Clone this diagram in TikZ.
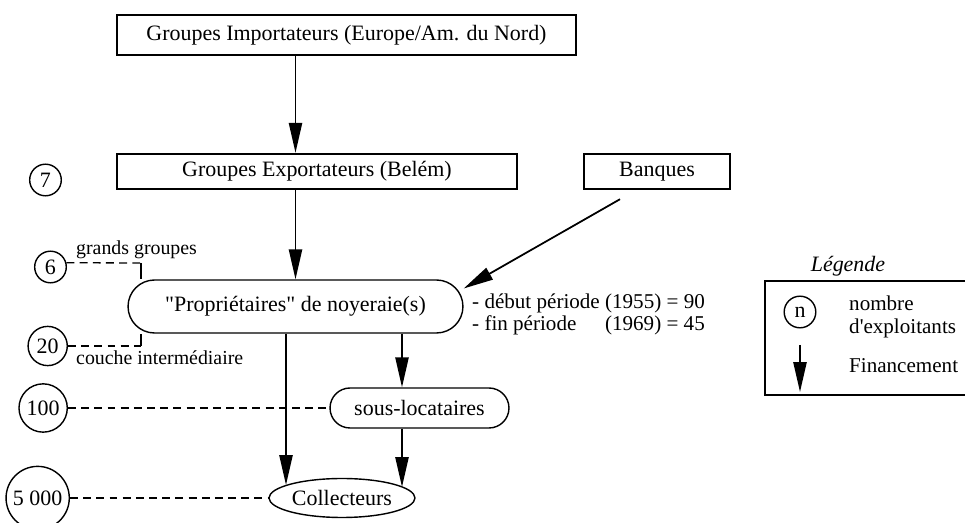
\documentclass[tikz,border=0pt]{standalone}
\usepackage{fontspec}
\setmainfont{Liberation Serif}
\usetikzlibrary{shapes,arrows.meta,positioning,calc}
\tikzset{boite/.style={draw, line width=1.4pt, minimum height=0.7cm, inner sep=0pt},
arrondi/.style={rounded rectangle, draw, line width=0.8pt, inner sep=0pt},
effectif/.style={circle, draw, line width=0.8pt, inner sep=2.6pt, minimum size=18pt},
fin/.style={line width=1pt, -{Triangle[length=17pt,width=7.5pt]}},
pointille/.style={line width=0.75pt, dash pattern=on 4.5pt off 3pt},
petit/.style={font=\fontsize{11.3}{13}\selectfont}
}

\begin{document}
\begin{tikzpicture}[x=0.02cm, y=-0.02cm, font=\fontsize{12.5}{15}\selectfont]
        \useasboundingbox (0,0) rectangle (965,523);

        \node[boite, minimum width=9.18cm, minimum height=0.8cm] (g_imp) at (346.5,35) {Groupes Importateurs (Europe/Am. du Nord)};
        \node[boite, minimum width=8cm]    (g_exp) at (317,171.5) {Groupes Exportateurs (Belém)};
        \node[boite, minimum width=2.92cm] (banq)  at (657,171.5) {Banques};
        \node[arrondi, minimum width=6.7cm, minimum height=1.06cm] (prop) at (295.5,306.5) {\raisebox{-3pt}{\textquotedbl Propriétaires\textquotedbl{} de noyeraie(s)}};
        \node[arrondi, minimum width=3.58cm, minimum height=0.8cm] (sous) at (419.5,408) {sous-locataires};
        \node[ellipse, draw, line width=0.8pt, inner sep=0pt, minimum width=2.92cm, minimum height=0.78cm] (coll) at (342,498) {Collecteurs};

        \node[effectif, anchor=east] (n_7)    at (62,180)  {7};
        \node[effectif, anchor=east] (n_6)    at (67,267)  {6};
        \node[effectif, anchor=east] (n_20)   at (68,346)  {20};
        \node[effectif, anchor=east] (n_100)  at (68,408)  {100};
        \node[effectif, anchor=east] (n_5000) at (70,498)  {5 000};

        \node[petit, anchor=base west] (l_grands) at (70,255) {grands groupes};
        \node[petit, anchor=base west] (l_couche) at (70,365) {couche intermédiaire};
        \node[anchor=west, font=\fontsize{12}{12.5}\selectfont] (periode) at (466,315)
             {\begin{tabular}{@{}l@{ }l@{}}- début période & (1955) = 90\\- fin période & (1969) = 45\end{tabular}};

        \coordinate (b_haut) at (141,263);
        \coordinate (b_bas)  at (141,346);
        \coordinate (col_c)  at (286,485);
        \coordinate (col_s)  at (402,487);

        \draw[pointille] (n_6.15) -- (b_haut);
        \draw[line width=0.8pt] (b_haut) -- (b_haut |- prop.north);
        \draw[pointille] (n_20) -- (b_bas);
        \draw[line width=0.8pt] (b_bas) -- (b_bas |- prop.south);
        \draw[pointille] (n_100) -- (sous);
        \draw[pointille] (n_5000) -- (coll);

        \draw[fin] (g_imp.south -| prop.north) -- (g_exp.north -| prop.north);
        \draw[fin] (g_exp.south -| prop.north) -- (prop.north);
        \draw[fin] ([shift={(-37,9)}]banq.south) -- ([shift={(0,-18)}]prop.east);
        \draw[fin] (prop.south -| col_s) -- (sous.north -| col_s);
        \draw[fin] (prop.south -| col_c) -- (col_c);
        \draw[fin] (sous.south -| col_s) -- (col_s);

        \node[font=\itshape\fontsize{12.5}{15}\selectfont] (leg_titre) at (848,266) {Légende};
        \draw[line width=1.4pt] (965,281) -- (765,281) -- (765,395) -- (965,395);
        \node[effectif] (leg_n) at (800,312) {n};
        \node[anchor=west, align=left, font=\fontsize{12}{13}\selectfont] (leg_nb) at (843,317) {nombre\\d\textquotesingle exploitants};
        \coordinate (leg_a) at (800,345);
        \coordinate (leg_b) at (800,392);
        \draw[fin] (leg_a) -- (leg_b);
        \node[anchor=west, font=\fontsize{12}{13}\selectfont] (leg_fin) at (843,366) {Financement};
\end{tikzpicture}
\end{document}
